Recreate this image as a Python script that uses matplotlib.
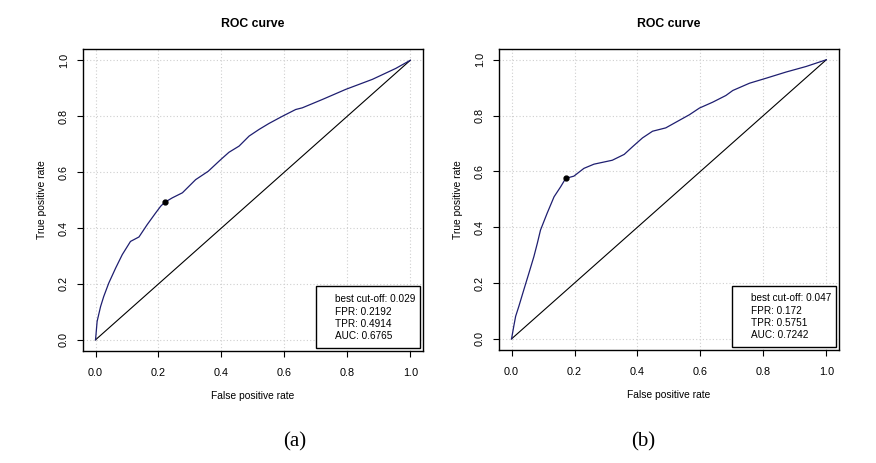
import matplotlib.pyplot as plt
import numpy as np

plt.rcParams['font.family'] = ['Liberation Sans', 'DejaVu Sans']

# ROC curve (a)
fpr_a = [0.0, 0.005, 0.016, 0.026, 0.042, 0.064, 0.085, 0.111, 0.138, 0.164,
         0.191, 0.207, 0.2192, 0.244, 0.276, 0.318, 0.358, 0.398, 0.424, 0.456,
         0.488, 0.520, 0.551, 0.594, 0.636, 0.657, 0.721, 0.795, 0.880, 0.954, 1.0]
tpr_a = [0.0, 0.066, 0.119, 0.155, 0.203, 0.257, 0.305, 0.352, 0.368, 0.412,
         0.454, 0.478, 0.4914, 0.508, 0.526, 0.573, 0.603, 0.645, 0.671, 0.693,
         0.729, 0.753, 0.774, 0.800, 0.824, 0.830, 0.860, 0.896, 0.932, 0.971, 1.0]

# ROC curve (b)
fpr_b = [0.0, 0.007, 0.013, 0.023, 0.039, 0.055, 0.071, 0.082, 0.092, 0.113,
         0.135, 0.156, 0.172, 0.198, 0.230, 0.262, 0.320, 0.358, 0.384, 0.416,
         0.448, 0.490, 0.533, 0.565, 0.597, 0.639, 0.681, 0.703, 0.756, 0.809,
         0.872, 0.936, 1.0]
tpr_b = [0.0, 0.045, 0.081, 0.116, 0.176, 0.235, 0.295, 0.343, 0.390, 0.450,
         0.509, 0.545, 0.5751, 0.583, 0.611, 0.626, 0.640, 0.661, 0.688, 0.720,
         0.744, 0.756, 0.783, 0.803, 0.827, 0.848, 0.872, 0.890, 0.916, 0.934,
         0.956, 0.976, 1.0]

best_a = (0.2192, 0.4914)
best_b = (0.172, 0.5751)
info_a = ['best cut-off: 0.029', 'FPR: 0.2192', 'TPR: 0.4914', 'AUC: 0.6765']
info_b = ['best cut-off: 0.047', 'FPR: 0.172', 'TPR: 0.5751', 'AUC: 0.7242']
ticks = [0.0, 0.2, 0.4, 0.6, 0.8, 1.0]
tick_labels = ['0.0', '0.2', '0.4', '0.6', '0.8', '1.0']

fig = plt.figure(figsize=(8.76, 4.63), dpi=100)
ax_a = fig.add_axes([0.0947, 0.2419, 0.388, 0.652])
ax_b = fig.add_axes([0.5696, 0.2440, 0.388, 0.651])


def roc_panel(ax, fpr, tpr, best, info, letter, letter_x):
    ax.set_xlim(-0.04, 1.04)
    ax.set_ylim(-0.04, 1.04)
    for t in ticks:
        ax.axvline(t, color='#cfcfcf', lw=0.8, ls=(0, (1, 2)), zorder=0)
        ax.axhline(t, color='#cfcfcf', lw=0.8, ls=(0, (1, 2)), zorder=0)
    ax.plot([0, 1], [0, 1], color='black', lw=0.8)
    ax.plot(fpr, tpr, color='#1e1e70', lw=0.9)
    ax.plot(best[0], best[1], 'o', color='black', ms=3.5)

    ax.set_xticks(ticks)
    ax.set_xticklabels(tick_labels)
    ax.set_yticks(ticks)
    ax.set_yticklabels(tick_labels, rotation=90, va='center')
    ax.tick_params(axis='both', direction='out', length=4.5, width=0.8,
                   labelsize=7.8, colors='black')
    ax.tick_params(axis='x', pad=7.5)
    ax.tick_params(axis='y', pad=5.5)
    for s in ax.spines.values():
        s.set_linewidth(1.0)

    ax.set_xlabel('False positive rate', fontsize=7.4)
    ax.set_ylabel('True positive rate', fontsize=7.4)
    ax.xaxis.set_label_coords(0.5, -0.149)
    ax.xaxis.label.set_va('center')
    ax.yaxis.set_label_coords(-0.121, 0.5)
    ax.yaxis.label.set_va('center')
    ax.text(0.5, 1.082, 'ROC curve', transform=ax.transAxes, ha='center',
            va='center', fontsize=8.8, fontweight='bold')

    ax.add_patch(plt.Rectangle((0.686, 0.010), 0.306, 0.204, transform=ax.transAxes,
                               fill=True, facecolor='white', edgecolor='black',
                               lw=1.0, zorder=5))
    for i, line in enumerate(info):
        ax.text(0.741, 0.171 - i * 0.0405, line, transform=ax.transAxes,
                ha='left', va='center', fontsize=7.2, zorder=6)

    fig.text(letter_x, 1 - 442 / 463, letter, ha='center', va='center',
             fontsize=15, family='Liberation Serif')


roc_panel(ax_a, fpr_a, tpr_a, best_a, info_a, '(a)', 294.7 / 876)
roc_panel(ax_b, fpr_b, tpr_b, best_b, info_b, '(b)', 642.7 / 876)

fig.savefig('out.png', dpi=100, facecolor='white')
